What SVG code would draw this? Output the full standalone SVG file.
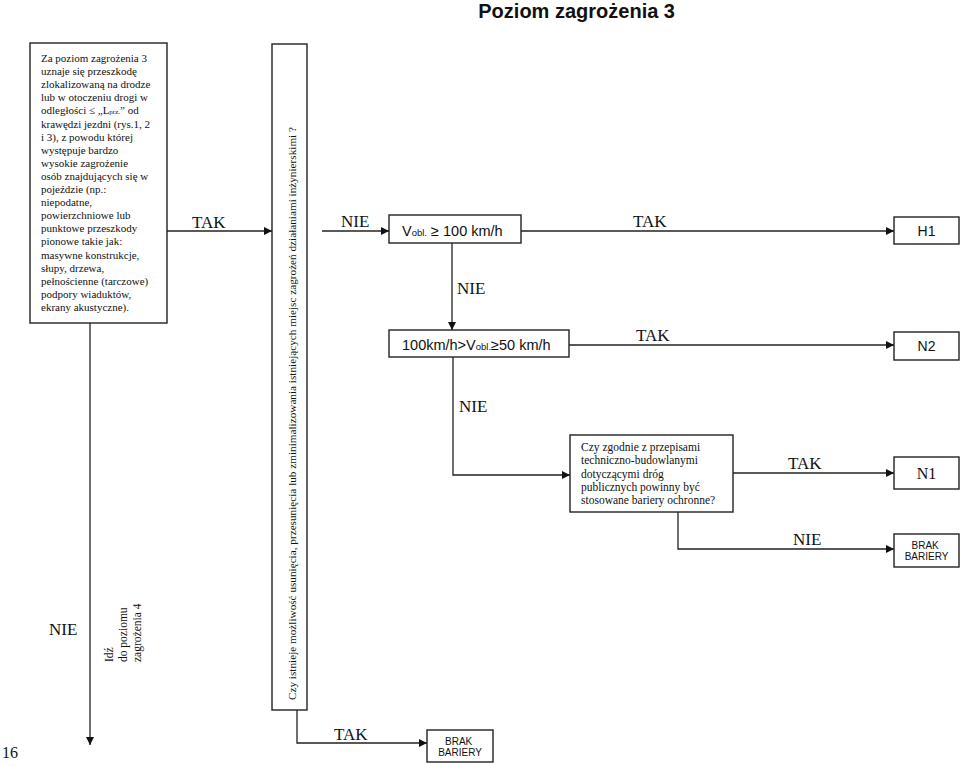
<svg xmlns="http://www.w3.org/2000/svg" width="960" height="766" viewBox="0 0 960 766">
<style>
.box{fill:#fff;stroke:#222;stroke-width:1.4}
.ln{fill:none;stroke:#222;stroke-width:1.3}
.ser{font-family:"Liberation Serif","Times New Roman",serif;fill:#111}
.san{font-family:"Liberation Sans",Arial,sans-serif;fill:#111}
.lbl{font-family:"Liberation Serif","Times New Roman",serif;font-size:17px;fill:#111}
</style>
<defs>
<marker id="arr" viewBox="0 0 10 10" refX="10" refY="5" markerWidth="8" markerHeight="8" markerUnits="userSpaceOnUse" orient="auto">
<path d="M0,0 L10,5 L0,10 z" fill="#111"/>
</marker>
</defs>
<rect width="960" height="766" fill="#fff"/>
<text class="san" x="675" y="18" font-size="20" font-weight="bold" text-anchor="end">Poziom zagrożenia 3</text>
<text class="ser" x="2" y="758" font-size="16">16</text>

<g id="connectors">
<path class="ln" d="M167,231 H272" marker-end="url(#arr)"/>
<path class="ln" d="M90,323 V745" marker-end="url(#arr)"/>
<path class="ln" d="M322,231 H389" marker-end="url(#arr)"/>
<path class="ln" d="M521,231 H894" marker-end="url(#arr)"/>
<path class="ln" d="M452,243 V330" marker-end="url(#arr)"/>
<path class="ln" d="M569,345 H894" marker-end="url(#arr)"/>
<path class="ln" d="M453,357 V475 H570" marker-end="url(#arr)"/>
<path class="ln" d="M733,473 H894" marker-end="url(#arr)"/>
<path class="ln" d="M678,512 V549 H894" marker-end="url(#arr)"/>
<path class="ln" d="M297,710 V743 H427" marker-end="url(#arr)"/>
<text class="lbl" x="192" y="228">TAK</text>
<text class="lbl" x="49" y="635">NIE</text>
<text class="lbl" x="341" y="227">NIE</text>
<text class="lbl" x="457" y="294">NIE</text>
<text class="lbl" x="633" y="227">TAK</text>
<text class="lbl" x="636" y="341">TAK</text>
<text class="lbl" x="459" y="412">NIE</text>
<text class="lbl" x="788" y="469">TAK</text>
<text class="lbl" x="793" y="545">NIE</text>
<text class="lbl" x="334" y="740">TAK</text>
<g class="ser" font-size="11.5">
<text transform="translate(113,662) rotate(-90)">Idź</text>
<text transform="translate(127,662) rotate(-90)">do poziomu</text>
<text transform="translate(141,662) rotate(-90)">zagrożenia 4</text>
</g>
</g>

<g id="n-intro">
<rect class="box" x="30" y="43" width="137" height="280"/>
<text class="ser" font-size="11">
<tspan x="41" y="62">Za poziom zagrożenia 3</tspan>
<tspan x="41" y="75.1">uznaje się przeszkodę</tspan>
<tspan x="41" y="88.2">zlokalizowaną na drodze</tspan>
<tspan x="41" y="101.3">lub w otoczeniu drogi w</tspan>
<tspan x="41" y="114.4">odległości ≤ „L<tspan font-size="7">prz.</tspan>” od</tspan>
<tspan x="41" y="127.5">krawędzi jezdni (rys.1, 2</tspan>
<tspan x="41" y="140.6">i 3), z powodu której</tspan>
<tspan x="41" y="153.7">występuje bardzo</tspan>
<tspan x="41" y="166.8">wysokie zagrożenie</tspan>
<tspan x="41" y="179.9">osób znajdujących się w</tspan>
<tspan x="41" y="193">pojeździe (np.:</tspan>
<tspan x="41" y="206.1">niepodatne,</tspan>
<tspan x="41" y="219.2">powierzchniowe lub</tspan>
<tspan x="41" y="232.3">punktowe przeszkody</tspan>
<tspan x="41" y="245.4">pionowe takie jak:</tspan>
<tspan x="41" y="258.5">masywne konstrukcje,</tspan>
<tspan x="41" y="271.6">słupy, drzewa,</tspan>
<tspan x="41" y="284.7">pełnościenne (tarczowe)</tspan>
<tspan x="41" y="297.8">podpory wiaduktów,</tspan>
<tspan x="41" y="310.9">ekrany akustyczne).</tspan>
</text>
</g>

<g id="n-question">
<rect class="box" x="272" y="44" width="35" height="666"/>
<text class="ser" font-size="11.2" textLength="573" lengthAdjust="spacing" transform="translate(296,700) rotate(-90)">Czy istnieje możliwość usunięcia, przesunięcia lub zminimalizowania istniejących miejsc zagrożeń działaniami inżynierskimi ?</text>
</g>

<g id="n-v100">
<rect class="box" x="389" y="215" width="132" height="28"/>
<text class="san" x="402" y="236" font-size="14.5">V<tspan font-size="9.5">obl.</tspan> ≥ 100 km/h</text>
</g>

<g id="n-v50">
<rect class="box" x="389" y="330" width="180" height="27"/>
<text class="san" x="402" y="350" font-size="14.5">100km/h&gt;V<tspan font-size="9.5">obl.</tspan>≥50 km/h</text>
</g>

<g id="n-czy">
<rect class="box" x="570" y="435" width="163" height="77"/>
<text class="ser" font-size="11.5">
<tspan x="581" y="451">Czy zgodnie z przepisami</tspan>
<tspan x="581" y="464.3">techniczno-budowlanymi</tspan>
<tspan x="581" y="477.6">dotyczącymi dróg</tspan>
<tspan x="581" y="490.9">publicznych powinny być</tspan>
<tspan x="581" y="504.2">stosowane bariery ochronne?</tspan>
</text>
</g>

<g id="n-h1">
<rect class="box" x="894" y="217" width="65" height="27"/>
<text class="san" x="926.5" y="236" font-size="14" text-anchor="middle">H1</text>
</g>

<g id="n-n2">
<rect class="box" x="894" y="332" width="65" height="28"/>
<text class="san" x="926.5" y="351" font-size="14" text-anchor="middle">N2</text>
</g>

<g id="n-n1">
<rect class="box" x="894" y="457" width="65" height="32"/>
<text class="ser" x="926.5" y="479" font-size="16" text-anchor="middle">N1</text>
</g>

<g id="n-brak1">
<rect class="box" x="894" y="534" width="65" height="33"/>
<text class="san" font-size="10" text-anchor="middle">
<tspan x="926.5" y="548.5">BRAK</tspan>
<tspan x="926.5" y="560">BARIERY</tspan>
</text>
</g>

<g id="n-brak2">
<rect class="box" x="427" y="730" width="66" height="32"/>
<text class="san" font-size="10" text-anchor="middle">
<tspan x="460" y="744.5">BRAK</tspan>
<tspan x="460" y="756">BARIERY</tspan>
</text>
</g>
</svg>
